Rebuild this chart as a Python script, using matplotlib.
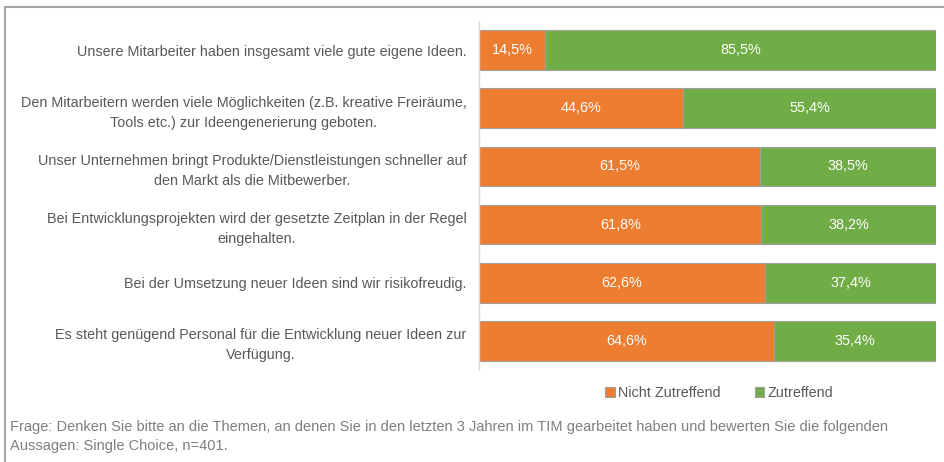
import matplotlib.pyplot as plt
import numpy as np
from matplotlib.lines import Line2D

plt.rcParams['font.family'] = ['Liberation Sans', 'DejaVu Sans']

statements = [
    'Unsere Mitarbeiter haben insgesamt viele gute eigene Ideen.',
    'Den Mitarbeitern werden viele Möglichkeiten (z.B. kreative Freiräume,\nTools etc.) zur Ideengenerierung geboten.',
    'Unser Unternehmen bringt Produkte/Dienstleistungen schneller auf\nden Markt als die Mitbewerber.',
    'Bei Entwicklungsprojekten wird der gesetzte Zeitplan in der Regel\neingehalten.',
    'Bei der Umsetzung neuer Ideen sind wir risikofreudig.',
    'Es steht genügend Personal für die Entwicklung neuer Ideen zur\nVerfügung.',
]
nicht_zutreffend = [14.5, 44.6, 61.5, 61.8, 62.6, 64.6]
zutreffend = [85.5, 55.4, 38.5, 38.2, 37.4, 35.4]

orange = '#ED7D31'
green = '#70AD47'
textgray = '#595959'
fs = 10.4

fig = plt.figure(figsize=(9.44, 4.62), dpi=100)
ax = fig.add_axes([479/944, 1-370/462, 457/944, 349/462])

y = np.arange(len(statements))
nz = np.array(nicht_zutreffend)
z = np.array(zutreffend)

b1 = ax.barh(y, nz, height=0.68, color=orange, edgecolor='#a0a0a0', linewidth=0.8, label='Nicht Zutreffend')
b2 = ax.barh(y, z, left=nz, height=0.68, color=green, edgecolor='#a0a0a0', linewidth=0.8, label='Zutreffend')

for i in range(len(y)):
    ax.text(nz[i]/2, y[i], ('%.1f%%' % nz[i]).replace('.', ','), color='white',
            ha='center', va='center', fontsize=fs)
    ax.text(nz[i] + z[i]/2, y[i], ('%.1f%%' % z[i]).replace('.', ','), color='white',
            ha='center', va='center', fontsize=fs)

ax.set_xlim(0, 100)
ax.set_ylim(len(statements) - 0.5, -0.5)
ax.set_yticks(y)
ax.set_yticklabels(statements, fontsize=fs, color=textgray, multialignment='center', linespacing=1.55)
ax.tick_params(axis='y', length=0, pad=9)
ax.set_xticks([])
for s in ['top', 'right', 'bottom']:
    ax.spines[s].set_visible(False)
ax.spines['left'].set_color('#d9d9d9')
ax.spines['left'].set_linewidth(1.0)

leg = fig.legend(handles=[b1, b2], loc='center', bbox_to_anchor=(719/944, 1-393/462),
                 ncol=2, frameon=False, fontsize=fs, handlelength=0.65, handleheight=0.65,
                 handletextpad=0.2, columnspacing=2.4)
for t in leg.get_texts():
    t.set_color(textgray)

fig.text(10/944, 1-427/462, 'Frage: Denken Sie bitte an die Themen, an denen Sie in den letzten 3 Jahren im TIM gearbeitet haben und bewerten Sie die folgenden',
         fontsize=10.55, color='#7f7f7f', va='center', ha='left')
fig.text(10/944, 1-446/462, 'Aussagen: Single Choice, n=401.',
         fontsize=10.55, color='#7f7f7f', va='center', ha='left')

# outer frame (top and left edges)
fig.add_artist(Line2D([5/944, 1], [1-7/462, 1-7/462], transform=fig.transFigure, color='#a6a6a6', linewidth=1.5))
fig.add_artist(Line2D([5/944, 5/944], [0, 1-7/462], transform=fig.transFigure, color='#a6a6a6', linewidth=1.5))

plt.savefig('out.png', dpi=100)
